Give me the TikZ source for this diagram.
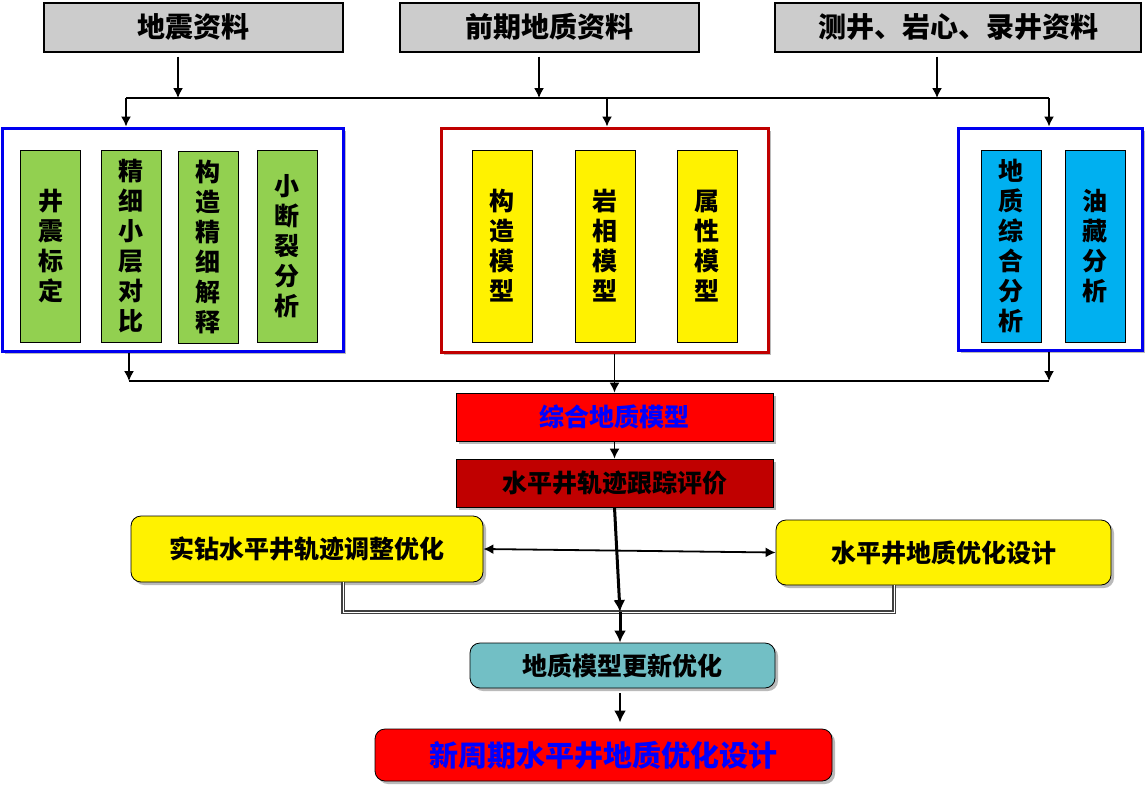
\documentclass[tikz,border=0pt]{standalone}
\usepackage{fontspec}
\setmainfont{Noto Sans CJK SC}
\usetikzlibrary{arrows.meta,positioning,shadows}
\definecolor{boxgray}{HTML}{CCCCCC}
\definecolor{leafgreen}{HTML}{92D050}
\definecolor{skycyan}{HTML}{00B0F0}
\definecolor{darkred}{HTML}{C00000}
\definecolor{tealbox}{HTML}{72BFC5}
\definecolor{frameblue}{HTML}{0000F0}

\begin{document}
\begin{tikzpicture}[x=1pt, y=-1pt, auto,
  every node/.style={font=\bfseries, inner sep=0pt},
  shd/.style={drop shadow={shadow xshift=3pt, shadow yshift=-3pt, fill=black!45, opacity=.6}},
  src/.style={draw, line width=2pt, fill=boxgray, minimum width=299pt, minimum height=49pt, font=\bfseries\fontsize{28}{32}\selectfont},
  grp/.style={draw, line width=3pt, fill=white, shd},
  col/.style={draw, line width=0.8pt, minimum width=60pt, minimum height=192pt, align=center, font=\bfseries\fontsize{25}{30}\selectfont},
  bar/.style={draw, line width=0.8pt, minimum width=317pt, minimum height=48pt, shd, font=\bfseries\fontsize{25}{30}\selectfont},
  pill/.style={draw, line width=0.8pt, rounded corners=10pt, shd, font=\bfseries\fontsize{25}{30}\selectfont},
  arr/.style={-{Latex[length=10pt,width=10pt]}, line width=1.5pt},
  fat/.style={-{Latex[length=12pt,width=12pt]}, line width=3pt},
  dbl/.style={draw=black!75, line width=1.2pt, double=white, double distance=1pt}]
  \useasboundingbox (0,0) rectangle (1146,790);

  \node[src] (seis) at (193,27) {地震资料};
  \node[src] (prior) at (549.5,27) {前期地质资料};
  \node[src, minimum width=366pt] (logs) at (958,27) {测井、岩心、录井资料};

  \node[grp, draw=frameblue, minimum width=341pt, minimum height=223pt] (ga) at (172.5,239.5) {};
  \node[grp, draw=darkred, minimum width=327pt, minimum height=224pt] (gb) at (604.5,240) {};
  \node[grp, draw=frameblue, minimum width=184pt, minimum height=222pt] (gc) at (1050,239) {};

  \node[col, fill=leafgreen] (a1) at (50.5,246) {井\\震\\标\\定};
  \node[col, fill=leafgreen] (a2) at (131,246) {精\\细\\小\\层\\对\\比};
  \node[col, fill=leafgreen] (a3) at (208,247.5) {构\\造\\精\\细\\解\\释};
  \node[col, fill=leafgreen] (a4) at (287,246) {小\\断\\裂\\分\\析};
  \node[col, fill=yellow] (b1) at (502,246) {构\\造\\模\\型};
  \node[col, fill=yellow] (b2) at (605,246) {岩\\相\\模\\型};
  \node[col, fill=yellow] (b3) at (707,246) {属\\性\\模\\型};
  \node[col, fill=skycyan] (c1) at (1011,246) {地\\质\\综\\合\\分\\析};
  \node[col, fill=skycyan] (c2) at (1095,246) {油\\藏\\分\\析};

  \node[bar, fill=red, text=blue] (geo) at (614.5,417) {综合地质模型};
  \node[bar, fill=darkred] (trk) at (614.5,483) {水平井轨迹跟踪评价};
  \node[pill, fill=yellow, minimum width=352pt, minimum height=66pt] (adj) at (307,549) {实钻水平井轨迹调整优化};
  \node[pill, fill=yellow, minimum width=335pt, minimum height=65pt] (des) at (943.5,552.5) {水平井地质优化设计};
  \node[pill, fill=tealbox, minimum width=305pt, minimum height=45pt] (upd) at (622.5,665.5) {地质模型更新优化};
  \node[pill, fill=red, text=blue, minimum width=457pt, minimum height=52pt, font=\bfseries\fontsize{29}{32}\selectfont] (fin) at (603.5,755) {新周期水平井地质优化设计};

  \coordinate (t1) at (178,98);
  \coordinate (t2) at (539,98);
  \coordinate (t3) at (937,98);
  \coordinate (u1) at (126,98);
  \coordinate (u2) at (607,98);
  \coordinate (u3) at (1049,98);
  \draw[line width=1.5pt] (u1) -- (u3);
  \draw[arr, shorten <=4pt] (seis.south -| t1) -- (t1);
  \draw[arr, shorten <=4pt] (prior.south -| t2) -- (t2);
  \draw[arr, shorten <=4pt] (logs.south -| t3) -- (t3);
  \draw[arr] (u1) -- (u1 |- ga.north);
  \draw[arr] (u2) -- (u2 |- gb.north);
  \draw[arr] (u3) -- (u3 |- gc.north);

  \coordinate (v1) at (129,381);
  \coordinate (v3) at (1049,381);
  \draw[line width=1.5pt] (v1) -- (v3);
  \draw[arr] (ga.south -| v1) -- (v1);
  \draw[arr] (gc.south -| v3) -- (v3);
  \draw[arr] (gb.south -| geo.north) -- (geo.north);
  \draw[arr] (geo.south) -- (trk.north);

  \draw[{Latex[length=10pt,width=10pt]}-{Latex[length=10pt,width=10pt]}, line width=1.8pt] (adj.east) -- (des.west);

  \coordinate (m) at (620,612);
  \coordinate (mL) at (343,612);
  \coordinate (mR) at (894,612);
  \draw[dbl] (adj.south -| mL) -- (mL) -- (mR) -- (des.south -| mR);
  \draw[fat] (trk.south) -- (m);
  \draw[fat] (m) -- (m |- upd.north);
  \draw[fat, line width=2.5pt, shorten <=5pt, shorten >=6pt] (upd.south -| m) -- (fin.north -| m);
\end{tikzpicture}
\end{document}
